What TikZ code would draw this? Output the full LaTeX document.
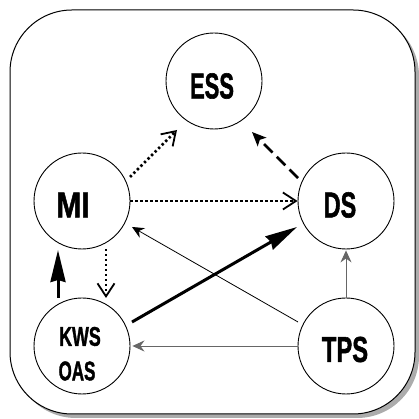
\documentclass[tikz,border=0pt]{standalone}
\usepackage{fontspec}
\setmainfont{Liberation Sans}
\newfontfamily\heavy{Liberation Sans}[UprightFeatures={FakeBold=1.6},BoldFeatures={FakeBold=1.6}]
\usetikzlibrary{arrows.meta}
\tikzset{
  sys/.style={circle,draw,line width=0.9pt,minimum size=96pt,inner sep=0pt},
  lbl/.style={font=\heavy\bfseries\fontsize{36}{36}\selectfont,inner sep=0pt},
  slbl/.style={font=\heavy\bfseries\fontsize{27}{27}\selectfont,inner sep=0pt},
  dotarrow/.style={line width=2.6pt,dash pattern=on 2.4pt off 2.6pt,-{Straight Barb[length=13pt,width=17pt,line width=1.8pt]}},
  dasharrow/.style={line width=2.6pt,dash pattern=on 12pt off 6pt,-{Stealth[length=14pt,width=12pt,inset=3pt]}},
  thickarrow/.style={line width=3pt,-{Stealth[length=32pt,width=15pt,inset=2pt]}},
  thinarrow/.style={line width=0.8pt,-{Stealth[length=12pt,width=11pt,inset=4pt]}},
}
\newcommand{\sq}[2]{\scalebox{#1}[1]{#2}}
\begin{document}
\begin{tikzpicture}[x=1pt,y=1pt]
\useasboundingbox (0,0) rectangle (419,419);
% outer frame with shadow
\fill[gray!65,rounded corners=62pt] (14,1) rectangle (419,405);
\draw[line width=1pt,fill=white,rounded corners=62pt] (10,5) rectangle (415,409);
% systems
\node[sys,label={[lbl,xshift=-2pt,yshift=-5pt]center:\sq{0.61}{ESS}}] (ESS) at (214,338) {};
\node[sys,label={[lbl,xshift=-9pt,yshift=-4pt]center:\sq{0.83}{MI}}] (MI) at (82,218) {};
\node[sys,label={[lbl,xshift=-6pt,yshift=-4pt]center:\sq{0.65}{DS}}] (DS) at (346,218) {};
\node[sys,label={[slbl,xshift=-2pt,yshift=9.5pt]center:\sq{0.66}{KWS}},
          label={[slbl,xshift=-5pt,yshift=-25pt]center:\sq{0.63}{OAS}}] (KWS) at (82,73) {};
\node[sys,label={[lbl,xshift=-1pt,yshift=-3.5pt]center:\sq{0.66}{TPS}}] (TPS) at (346,73) {};
% connectors
\draw[dotarrow] ([shift={(48,24)}]MI.center) -- ([shift={(-37,-49)}]ESS.center);
\draw[dasharrow] ([shift={(-48,23)}]DS.center) -- ([shift={(38,-51)}]ESS.center);
\draw[dotarrow] (MI.east) -- (DS.west);
\draw[dotarrow] ([shift={(24,-48)}]MI.center) -- ([shift={(24,48)}]KWS.center);
\draw[thickarrow] ([shift={(-24,48)}]KWS.center) -- ([shift={(-24,-49)}]MI.center);
\draw[thickarrow] ([shift={(50,24)}]KWS.center) -- ([shift={(-49,-26)}]DS.center);
\draw[thinarrow] ([shift={(-48,24)}]TPS.center) -- ([shift={(50,-26)}]MI.center);
\draw[thinarrow,draw=gray!80!black] (TPS.west) -- ([xshift=2pt]KWS.east);
\draw[thinarrow,draw=gray!80!black] (TPS.north) -- ([yshift=-1pt]DS.south);
\end{tikzpicture}
\end{document}
